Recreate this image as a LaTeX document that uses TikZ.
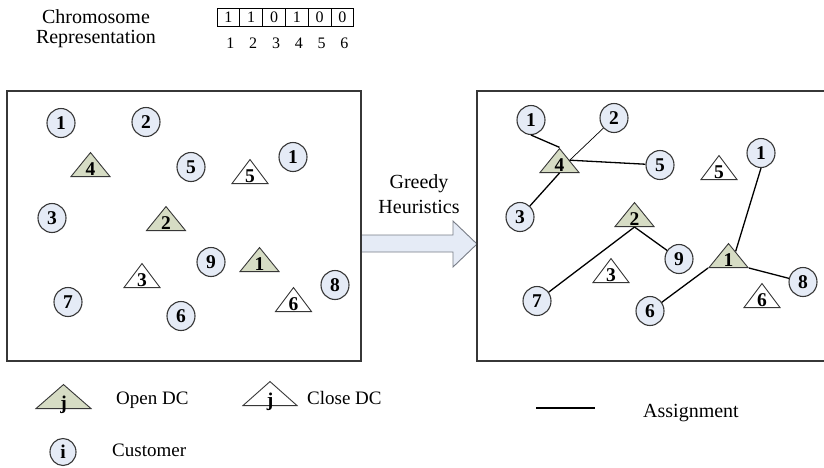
\documentclass[tikz,border=0pt]{standalone}
\usepackage{fontspec}
\setmainfont{Liberation Serif}
\usetikzlibrary{shapes.geometric,calc}

\definecolor{edge}{RGB}{55,55,55}
\definecolor{custfill}{RGB}{229,235,246}
\definecolor{dcfill}{RGB}{214,220,196}
\definecolor{arrowedge}{RGB}{120,125,135}

\newcommand{\numfont}{\bfseries\fontsize{19.5}{19.5}\selectfont}
\newcommand{\lblfont}{\fontsize{20}{20}\selectfont}
\newcommand{\legfont}{\fontsize{19}{19}\selectfont}
\newcommand{\chromfont}{\fontsize{16}{16}\selectfont}

\tikzset{
  cust/.style={ellipse, draw=edge, line width=1.1pt, fill=custfill,
    minimum width=28pt, minimum height=29pt, inner sep=0pt, font=\numfont},
  dctri/.style={isosceles triangle, isosceles triangle stretches,
    shape border rotate=90, draw=edge, line width=0.9pt, inner sep=0pt,
    minimum height=24pt, anchor=south},
  opendc/.style={dctri, fill=dcfill, minimum width=39pt},
  closedc/.style={dctri, fill=white, minimum width=36pt},
  dcnum/.style={font=\numfont, inner sep=0pt, anchor=base},
  panel/.style={draw=edge, line width=1.6pt},
  link/.style={line width=1.3pt, black},
  thinlink/.style={line width=0.7pt, black},
  txt/.style={inner sep=0pt, anchor=base},
  cell/.style={draw=black, line width=0.8pt, minimum width=22.8pt,
    minimum height=18pt, inner sep=0pt, font=\chromfont},
}

\begin{document}
\begin{tikzpicture}[x=1pt,y=-1pt]
\useasboundingbox (0,0) rectangle (824,467);

% ---------- chromosome ----------
\node[txt, font=\lblfont] (chrom1) at (96,23) {Chromosome};
\node[txt, font=\lblfont] (chrom2) at (96,43) {Representation};
\foreach \v [count=\i] in {1,1,0,1,0,0} {
  \node[cell] (g\i) at ({205.6+22.8*\i},17) {\v};
  \node[txt, font=\chromfont] (gi\i) at ({207.6+22.8*\i},48) {\i};
}

% ---------- greedy arrow ----------
\draw[fill=custfill, draw=arrowedge, line width=0.9pt]
  (361,235) -- (453,235) -- (453,221) -- (477,244) -- (453,267) -- (453,252) -- (361,252);
\node[txt, font=\lblfont] (gh1) at (419,188) {Greedy};
\node[txt, font=\lblfont] (gh2) at (419,213) {Heuristics};

% ---------- panels ----------
\draw[panel] (7,91) rectangle (361,361);
\draw[panel] (826,91) -- (477,91) -- (477,361) -- (826,361);

% ---------- left panel: candidate sites and customers ----------
\node[cust] (a1)  at (61,123)  {1};
\node[cust] (a2)  at (146,122) {2};
\node[cust] (a5)  at (191,167) {5};
\node[cust] (a1b) at (293,157) {1};
\node[cust] (a3)  at (52,218)  {3};
\node[cust] (a9)  at (211,262) {9};
\node[cust] (a8)  at (335,285) {8};
\node[cust] (a7)  at (68,302)  {7};
\node[cust] (a6)  at (181,316) {6};

\node[opendc]  (d4) at (90.5,177) {};
\node[closedc] (d5) at (250,184)  {};
\node[opendc]  (d2) at (166,231)  {};
\node[opendc]  (d1) at (259.5,272){};
\node[closedc] (d3) at (142,288)  {};
\node[closedc] (d6) at (293.5,312){};
\foreach \n in {4,5,2,1,3,6}
  \node[dcnum] (d\n n) at ([yshift=1.2pt]d\n.south) {\n};

% ---------- right panel: open sites with assignments ----------
\node[cust] (b1)  at (531,120) {1};
\node[cust] (b2)  at (614,118) {2};
\node[cust] (b5)  at (660,165) {5};
\node[cust] (b1b) at (761,153) {1};
\node[cust] (b3)  at (520,217) {3};
\node[cust] (b9)  at (679,259) {9};
\node[cust] (b8)  at (803,282) {8};
\node[cust] (b7)  at (537,301) {7};
\node[cust] (b6)  at (650,311) {6};

\node[opendc]  (e4) at (559.5,173) {};
\node[closedc] (e5) at (719,180)   {};
\node[opendc]  (e2) at (634.5,227) {};
\node[opendc]  (e1) at (728.5,268) {};
\node[closedc] (e3) at (611,283)   {};
\node[closedc] (e6) at (762,308)   {};

% assignments
\draw[link] (b1.south) -- (e4.apex);
\draw[thinlink] (b2) -- (e4.right side);
\draw[link] (e4.right side) -- (b5);
\draw[link] (e4.south) -- (b3);
\draw[link] (e2.south) -- (b7);
\draw[link] (e2.south) -- (b9);
\draw[link] ($(e1.apex)!0.35!(e1.right corner)$) -- (b1b.south);
\draw[link] (e1.left corner) -- (b6);
\draw[link] (e1.right corner) -- (b8);

\foreach \n in {4,5,2,1,3,6}
  \node[dcnum] (e\n n) at ([yshift=1.2pt]e\n.south) {\n};

% ---------- legend ----------
\node[opendc, minimum width=55pt] (lo) at (63.5,409) {};
\node[dcnum] (lon) at (lo.south) {j};
\node[txt, font=\legfont, anchor=base west] (lot) at (116,404) {Open DC};

\node[closedc, minimum width=54pt] (lc) at (270,406) {};
\node[dcnum] (lcn) at (lc.south) {j};
\node[txt, font=\legfont, anchor=base west] (lct) at (307,404) {Close DC};

\node[cust, minimum width=26pt, minimum height=27pt] (lu) at (63,452) {i};
\node[txt, font=\legfont, anchor=base west] (lut) at (112,456) {Customer};

\coordinate (la) at (536,408);
\coordinate (lb) at (595,408);
\draw[link] (la) -- (lb);
\node[txt, font=\lblfont, anchor=base west] (lat) at (643,417) {Assignment};
\end{tikzpicture}
\end{document}
